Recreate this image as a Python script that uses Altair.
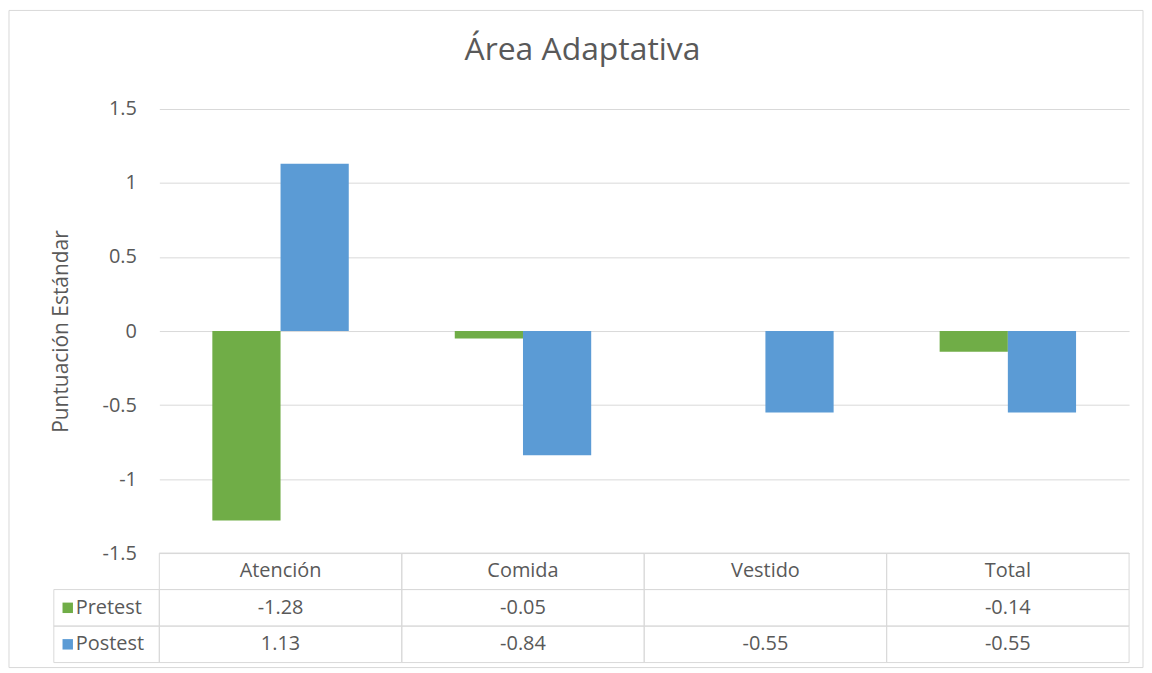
import altair as alt
import pandas as pd

categories = ["Atención", "Comida", "Vestido", "Total"]
series = ["Pretest", "Postest"]
pretest = [-1.28, -0.05, None, -0.14]
postest = [1.13, -0.84, -0.55, -0.55]
y_ticks = [-1.5, -1, -0.5, 0, 0.5, 1, 1.5]
colors = ["#70AD47", "#5B9BD5"]
title_text = "Área Adaptativa"
y_title = "Puntuación Estándar"

FONT = "Open Sans"
GRAY = "#595959"
GRID = "#d9d9d9"
W, H = 974, 446
TH = 110
LFS = 20

rows = []
for s, vals in zip(series, [pretest, postest]):
    for c, v in zip(categories, vals):
        rows.append({"cat": c, "series": s, "value": v})
df = pd.DataFrame(rows)

trows = []
for c in categories:
    trows.append({"cat": c, "row": "header", "label": c})
for s, vals in zip(series, [pretest, postest]):
    for c, v in zip(categories, vals):
        trows.append({"cat": c, "row": s, "label": "" if v is None else f"{v:.2f}"})
tdf = pd.DataFrame(trows)
row_domain = ["header"] + series
sdf = pd.DataFrame({"row": series, "series": series})

x_scale = alt.Scale(domain=categories, paddingInner=0, paddingOuter=0)
color_scale = alt.Scale(domain=series, range=colors)

frame = alt.Chart(pd.DataFrame({"k": [0]})).mark_rect(
    fillOpacity=0, stroke=GRID, strokeWidth=1
).encode(
    x=alt.value(-151), x2=alt.value(988), y=alt.value(-99), y2=alt.value(561)
)

bars = alt.Chart(df).transform_filter("isValid(datum.value)").mark_bar().encode(
    x=alt.X("cat:N", scale=x_scale, sort=categories, axis=None),
    xOffset=alt.XOffset("series:N", sort=series,
                        scale=alt.Scale(domain=series, paddingInner=0, paddingOuter=0.777)),
    y=alt.Y("value:Q", scale=alt.Scale(domain=[-1.5, 1.5], nice=False, zero=False),
            axis=alt.Axis(values=y_ticks, labelExpr="'' + datum.value", title=y_title,
                          ticks=False, domain=False, grid=True, gridColor=GRID,
                          labelFont=FONT, labelFontSize=LFS, labelColor=GRAY, labelPadding=23,
                          titleFont=FONT, titleFontSize=21, titleColor=GRAY,
                          titleFontWeight="normal", titleX=-98, titleY=H / 2,
                          titleAngle=-90, titleBaseline="middle", titleAlign="center")),
    color=alt.Color("series:N", scale=color_scale, legend=None),
)

top = alt.layer(frame, bars).properties(
    width=W, height=H,
    title=alt.Title(title_text, font=FONT, fontSize=32, color=GRAY, fontWeight="normal",
                    anchor="middle", offset=-57, dx=-62),
)

tx = alt.X("cat:N", scale=x_scale, sort=categories, axis=None)
ty = alt.Y("row:N", scale=alt.Scale(domain=row_domain, paddingInner=0, paddingOuter=0), axis=None)

cells = alt.Chart(tdf).mark_rect(fillOpacity=0, stroke=GRID, strokeWidth=1).encode(x=tx, y=ty)
ctext = alt.Chart(tdf).mark_text(font=FONT, fontSize=LFS, color=GRAY).encode(
    x=tx, y=ty, text="label:N")
lcells = alt.Chart(sdf).mark_rect(fillOpacity=0, stroke=GRID, strokeWidth=1).encode(
    x=alt.value(-106), x2=alt.value(0), y=ty)
lsq = alt.Chart(sdf).mark_square(size=110, opacity=1).encode(
    x=alt.value(-92), y=ty, color=alt.Color("series:N", scale=color_scale, legend=None))
ltext = alt.Chart(sdf).mark_text(font=FONT, fontSize=LFS, color=GRAY, align="left").encode(
    x=alt.value(-84), y=ty, text="series:N")

table = alt.layer(cells, ctext, lcells, lsq, ltext).properties(width=W, height=TH)

chart = alt.vconcat(top, table, spacing=0, bounds="flush").properties(
    padding=0, background="white"
).configure_view(stroke=None)

chart.save("out.html", embed_options={"renderer": "svg", "actions": False})
